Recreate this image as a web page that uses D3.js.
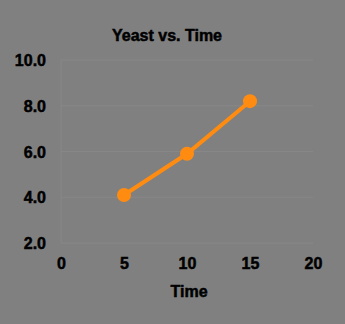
<!DOCTYPE html>
<html>
<head>
<meta charset="utf-8">
<script src="https://cdn.jsdelivr.net/npm/d3@7"></script>
<style>
  html, body { margin: 0; padding: 0; background: #808080; }
  svg { display: block; }
  text { font-family: "Liberation Sans", Arial, sans-serif; font-weight: bold; fill: #000; }
</style>
</head>
<body>
<svg id="chart" width="345" height="324"></svg>
<script>
// yeast population over time
var times = [5, 10, 15];
var yeast = [4.1, 5.9, 8.2];
var xTicks = [0, 5, 10, 15, 20];
var yTicks = [2, 4, 6, 8, 10];

var svg = d3.select("#chart");
var W = 345, H = 324;
svg.append("rect").attr("width", W).attr("height", H).attr("fill", "#808080");

var x = d3.scaleLinear().domain([0, 20]).range([61, 313]);
var y = d3.scaleLinear().domain([2, 10]).range([243, 60]);

// gridlines
svg.append("g").selectAll("line").data(yTicks).join("line")
  .attr("x1", x(0)).attr("x2", x(20))
  .attr("y1", function (d) { return y(d); }).attr("y2", function (d) { return y(d); })
  .attr("stroke", "#878787").attr("stroke-width", 1);
svg.append("line").attr("x1", x(0)).attr("x2", x(0)).attr("y1", y(10)).attr("y2", y(2))
  .attr("stroke", "#878787");

function styleText(sel) {
  sel.style("font-size", "16px")
    .style("font-family", "Liberation Sans, Arial, sans-serif").style("font-weight", "bold")
    .attr("fill", "#000").attr("stroke", "#000").attr("stroke-width", 0.5);
}

// axes (labels only)
var yAxis = svg.append("g").attr("transform", "translate(" + x(0) + ",0)")
  .call(d3.axisLeft(y).tickValues(yTicks).tickFormat(d3.format(".1f")).tickSize(0).tickPadding(15));
yAxis.select(".domain").remove();
yAxis.selectAll("text").attr("dy", "0.35em").call(styleText);

var xAxis = svg.append("g").attr("transform", "translate(0," + y(2) + ")")
  .call(d3.axisBottom(x).tickValues(xTicks).tickFormat(d3.format("d")).tickSize(0).tickPadding(15));
xAxis.select(".domain").remove();
xAxis.selectAll("text").call(styleText);

// title and axis label
svg.append("text").attr("x", 167).attr("y", 41).attr("text-anchor", "middle")
  .call(styleText).text("Yeast vs. Time");
svg.append("text").attr("x", 189).attr("y", 297).attr("text-anchor", "middle")
  .call(styleText).text("Time");

// series
var pts = times.map(function (t, i) { return [t, yeast[i]]; });
svg.append("path").datum(pts)
  .attr("fill", "none").attr("stroke", "#ff8c10").attr("stroke-width", 4)
  .attr("d", d3.line().x(function (d) { return x(d[0]); }).y(function (d) { return y(d[1]); }));
svg.append("g").selectAll("circle").data(pts).join("circle")
  .attr("cx", function (d) { return x(d[0]); }).attr("cy", function (d) { return y(d[1]); })
  .attr("r", 7).attr("fill", "#ff8c10");
</script>
</body>
</html>
